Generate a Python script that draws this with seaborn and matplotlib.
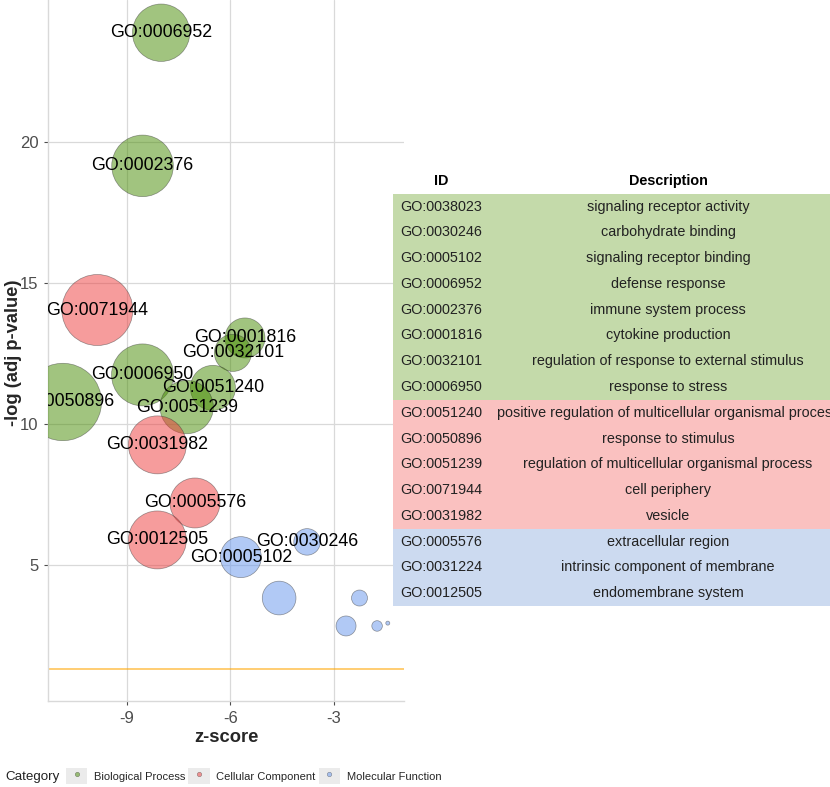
import numpy as np
import pandas as pd
import matplotlib
matplotlib.use("Agg")
import matplotlib.pyplot as plt
from matplotlib.patches import Rectangle
from matplotlib.lines import Line2D
from matplotlib.legend_handler import HandlerTuple
import seaborn as sns

# bubble data
go_ids = ["GO:0006952", "GO:0002376", "GO:0071944", "GO:0001816", "GO:0032101",
          "GO:0006950", "GO:0050896", "GO:0051240", "GO:0051239", "GO:0031982",
          "GO:0005576", "GO:0012505", "GO:0005102", "GO:0030246",
          "", "", "", "", ""]
category = ["Biological Process", "Biological Process", "Cellular Component",
            "Biological Process", "Biological Process", "Biological Process",
            "Biological Process", "Biological Process", "Biological Process",
            "Cellular Component", "Cellular Component", "Cellular Component",
            "Molecular Function", "Molecular Function", "Molecular Function",
            "Molecular Function", "Molecular Function", "Molecular Function",
            "Molecular Function"]
zscore = [-8.01, -8.55, -9.86, -5.58, -5.93, -8.55, -10.86, -6.51, -7.27, -8.12,
          -7.03, -8.12, -5.70, -3.78, -4.59, -2.26, -2.65, -1.75, -1.44]
neg_log_p = [23.87, 19.15, 14.04, 13.05, 12.52, 11.74, 10.78, 11.28, 10.60, 9.26,
             7.20, 5.89, 5.28, 5.82, 3.83, 3.83, 2.84, 2.84, 2.94]
count = [206, 237, 315, 100, 86, 240, 374, 127, 178, 210,
         156, 210, 105, 44, 71, 16, 25, 7, 1]

# table data
table_ids = ["GO:0038023", "GO:0030246", "GO:0005102", "GO:0006952", "GO:0002376",
             "GO:0001816", "GO:0032101", "GO:0006950", "GO:0051240", "GO:0050896",
             "GO:0051239", "GO:0071944", "GO:0031982", "GO:0005576", "GO:0031224",
             "GO:0012505"]
table_desc = ["signaling receptor activity", "carbohydrate binding",
              "signaling receptor binding", "defense response",
              "immune system process", "cytokine production",
              "regulation of response to external stimulus", "response to stress",
              "positive regulation of multicellular organismal process",
              "response to stimulus", "regulation of multicellular organismal process",
              "cell periphery", "vesicle", "extracellular region",
              "intrinsic component of membrane", "endomembrane system"]
table_cat = ["Biological Process"] * 8 + ["Cellular Component"] * 5 + ["Molecular Function"] * 3

label_threshold = 5
pval_line = 1.3

df = pd.DataFrame({"ID": go_ids, "category": category, "zscore": zscore,
                   "logp": neg_log_p, "count": count})

palette = {"Biological Process": "#458B00",
           "Cellular Component": "#EE3B3B",
           "Molecular Function": "#6495ED"}
table_colors = {"Biological Process": "#c4daaa",
                "Cellular Component": "#fac1c0",
                "Molecular Function": "#ccdaf0"}

sns.set_theme(style="white")
plt.rcParams["font.family"] = ["Liberation Sans", "DejaVu Sans"]
plt.rcParams["axes.unicode_minus"] = False

W, H = 830, 787
fig = plt.figure(figsize=(W / 100, H / 100), dpi=100)
ax = fig.add_axes([48 / W, 1 - 701 / H, (404 - 48) / W, 701 / H])

k = 8.29  # points^2 per count unit
sns.scatterplot(data=df, x="zscore", y="logp", hue="category", palette=palette,
                size="count", sizes=(k * min(count), k * max(count)),
                size_norm=(min(count), max(count)), alpha=0.5,
                edgecolor="#333333", linewidth=0.5, legend=False, ax=ax, zorder=3)

ax.axhline(pval_line, color="#FFA500", lw=1.1, alpha=0.7, zorder=2)

for _, row in df[df["logp"] > label_threshold].iterrows():
    ax.text(row["zscore"], row["logp"], row["ID"], ha="center", va="center",
            fontsize=12.8, color="black", zorder=5, clip_on=True)

ax.set_xlim(-11.29, -0.97)
ax.set_ylim(0.18, 25.03)
ax.set_xticks([-9, -6, -3])
ax.set_yticks([5, 10, 15, 20])
ax.grid(True, color="#d9d9d9", lw=0.9)
ax.set_axisbelow(True)
for s in ["top", "right"]:
    ax.spines[s].set_visible(False)
for s in ["left", "bottom"]:
    ax.spines[s].set_color("#d9d9d9")
    ax.spines[s].set_linewidth(1.0)
ax.tick_params(axis="both", labelsize=12, colors="#4d4d4d", length=3, width=0.8,
               left=True, bottom=True, pad=4)
for t in ax.get_xticklabels() + ax.get_yticklabels():
    t.set_color("#4d4d4d")
ax.set_xlabel("z-score", fontsize=13.2, fontweight="bold", labelpad=2)
ax.set_ylabel("-log (adj p-value)", fontsize=13.2, fontweight="bold")
ax.yaxis.set_label_coords(-0.073, 0.497)

# table on the right
tax = fig.add_axes([393 / W, 1 - 606 / H, 550 / W, (606 - 168) / H])
n = len(table_ids)
tax.set_xlim(0, 550)
tax.set_ylim(n - 0.5, -1.5)
tax.barh(np.arange(n), 550, left=0, height=1.0,
         color=[table_colors[c] for c in table_cat], edgecolor="none")
for i, (gid, desc) in enumerate(zip(table_ids, table_desc)):
    tax.text(7, i, gid, ha="left", va="center", fontsize=10.4, color="#222222")
    tax.text(275, i, desc, ha="center", va="center", fontsize=10.4, color="#222222")
tax.text(48, -1, "ID", ha="center", va="center", fontsize=10.4,
         fontweight="bold", color="black")
tax.text(275, -1, "Description", ha="center", va="center", fontsize=10.4,
         fontweight="bold", color="black")
tax.axis("off")

# legend
fig.text(5 / W, 1 - 777 / H, "Category", ha="left", va="center", fontsize=9.6,
         color="#222222")
handles = []
for c, col in palette.items():
    box = Rectangle((0, 0), 1, 1, facecolor="#ebebeb", edgecolor="none")
    dot = Line2D([], [], marker="o", linestyle="none", markersize=3.2,
                 markerfacecolor=col, markeredgecolor="black", markeredgewidth=0.3,
                 alpha=0.5)
    handles.append((box, dot))
fig.legend(handles, list(palette.keys()),
           handler_map={tuple: HandlerTuple(ndivide=1, pad=0)},
           loc="center left", bbox_to_anchor=(66 / W, 1 - 776 / H), ncol=3,
           frameon=False, fontsize=8, handlelength=1.9, handleheight=1.9,
           handletextpad=0.6, columnspacing=0.3, borderpad=0, borderaxespad=0)

fig.savefig("out.png", dpi=100)
